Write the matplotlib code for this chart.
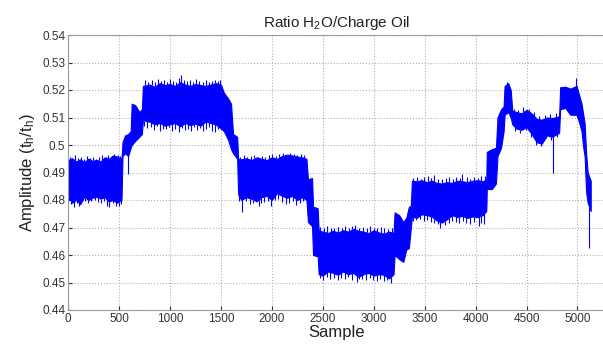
import matplotlib
matplotlib.use("Agg")
import matplotlib.pyplot as plt
import numpy as np

plt.rcParams['font.family'] = ['Liberation Sans', 'DejaVu Sans']
plt.rcParams['mathtext.default'] = 'regular'

# envelope of the signal: sample, upper edge, lower edge
sample = [0, 40, 80, 120, 160, 200, 240, 280, 320, 360, 400, 440, 480, 525,
          535, 560, 590, 615, 625, 660, 700, 725,
          735, 800, 850, 900, 950, 1000, 1050, 1100, 1150, 1200, 1250, 1300,
          1350, 1400, 1450, 1500, 1530, 1570, 1600, 1620, 1660,
          1670, 1700, 1750, 1800, 1850, 1900, 1950, 2000, 2050, 2100, 2150,
          2200, 2250, 2300, 2340, 2355, 2395, 2405, 2450,
          2460, 2500, 2550, 2600, 2650, 2700, 2750, 2800, 2850, 2900, 2950,
          3000, 3050, 3100, 3150, 3195, 3205, 3250, 3290, 3320, 3345, 3365,
          3375, 3420, 3470, 3520, 3570, 3620, 3670, 3720, 3770, 3820, 3870,
          3920, 3970, 4020, 4070, 4105, 4110, 4160, 4200, 4215, 4250, 4275,
          4285, 4320, 4345, 4360, 4400, 4450, 4500, 4550, 4600, 4650, 4700,
          4750, 4800, 4820, 4830, 4880, 4930, 4990, 5010, 5040, 5055, 5070,
          5085, 5100, 5130]
upper = [0.4945, 0.4952, 0.4940, 0.4948, 0.4938, 0.4950, 0.4942, 0.4946,
         0.4940, 0.4955, 0.4950, 0.4962, 0.4958, 0.4950,
         0.5010, 0.5035, 0.5040, 0.5050, 0.5150, 0.5145, 0.5120, 0.5130,
         0.5215, 0.5220, 0.5212, 0.5225, 0.5218, 0.5222, 0.5215, 0.5228,
         0.5220, 0.5215, 0.5222, 0.5218, 0.5215, 0.5220, 0.5225, 0.5220,
         0.5190, 0.5170, 0.5150, 0.5040, 0.5030,
         0.4950, 0.4948, 0.4952, 0.4945, 0.4955, 0.4950, 0.4945, 0.4955,
         0.4950, 0.4960, 0.4965, 0.4962, 0.4958, 0.4955, 0.4950, 0.4875,
         0.4880, 0.4776, 0.4770,
         0.4690, 0.4685, 0.4680, 0.4688, 0.4682, 0.4690, 0.4685, 0.4695,
         0.4688, 0.4685, 0.4680, 0.4690, 0.4682, 0.4678, 0.4685, 0.4680,
         0.4755, 0.4745, 0.4720, 0.4735, 0.4775, 0.4780,
         0.4870, 0.4868, 0.4872, 0.4865, 0.4870, 0.4862, 0.4860, 0.4865,
         0.4862, 0.4870, 0.4868, 0.4865, 0.4870, 0.4872, 0.4868, 0.4875,
         0.4975, 0.4985, 0.4990, 0.5100, 0.5130, 0.5140,
         0.5215, 0.5225, 0.5200, 0.5125, 0.5120, 0.5115, 0.5128, 0.5115,
         0.5095, 0.5092, 0.5100, 0.5098, 0.5102, 0.5105,
         0.5210, 0.5212, 0.5205, 0.5215, 0.5190, 0.5150, 0.5115, 0.5080,
         0.4970, 0.4900, 0.4870]
lower = [0.4815, 0.4790, 0.4800, 0.4785, 0.4812, 0.4800, 0.4808, 0.4812,
         0.4805, 0.4810, 0.4795, 0.4800, 0.4790, 0.4800,
         0.4960, 0.4970, 0.4960, 0.4990, 0.5000, 0.5015, 0.5030, 0.5040,
         0.5090, 0.5085, 0.5075, 0.5080, 0.5070, 0.5075, 0.5080, 0.5068,
         0.5080, 0.5072, 0.5078, 0.5070, 0.5085, 0.5080, 0.5075, 0.5060,
         0.5050, 0.5020, 0.4985, 0.4970, 0.4950,
         0.4820, 0.4800, 0.4810, 0.4805, 0.4795, 0.4810, 0.4815, 0.4800,
         0.4825, 0.4815, 0.4808, 0.4815, 0.4800, 0.4810, 0.4800, 0.4720,
         0.4705, 0.4600, 0.4595,
         0.4530, 0.4525, 0.4540, 0.4535, 0.4528, 0.4540, 0.4530, 0.4535,
         0.4520, 0.4530, 0.4535, 0.4525, 0.4530, 0.4528, 0.4515, 0.4530,
         0.4600, 0.4585, 0.4575, 0.4620, 0.4625, 0.4700,
         0.4740, 0.4735, 0.4748, 0.4745, 0.4740, 0.4725, 0.4718, 0.4730,
         0.4745, 0.4738, 0.4742, 0.4735, 0.4740, 0.4738, 0.4745, 0.4760,
         0.4840, 0.4840, 0.4860, 0.4960, 0.4990, 0.5050,
         0.5110, 0.5120, 0.5100, 0.5075, 0.5060, 0.5055, 0.5065, 0.5040,
         0.5010, 0.5005, 0.5035, 0.5030, 0.5040, 0.5045,
         0.5130, 0.5135, 0.5110, 0.5110, 0.5090, 0.5050, 0.4995, 0.4960,
         0.4830, 0.4790, 0.4760]

# spikes sticking out above the band
hi_x = [15, 45, 70, 95, 130, 155, 185, 215, 250, 275, 305, 335, 370, 395,
        420, 455, 490, 515,
        760, 790, 820, 850, 880, 910, 940, 970, 1000, 1030, 1060, 1090, 1110,
        1140, 1170, 1200, 1230, 1260, 1290, 1320, 1350, 1380, 1410, 1440,
        1470, 1495,
        1690, 1725, 1760, 1795, 1830, 1865, 1900, 1935, 1970, 2005, 2040,
        2075, 2110, 2145, 2180, 2215, 2250, 2285, 2315,
        2475, 2510, 2545, 2580, 2615, 2650, 2685, 2720, 2755, 2790, 2820,
        2860, 2895, 2930, 2965, 3000, 3035, 3070, 3105, 3140, 3180,
        3390, 3425, 3460, 3495, 3530, 3565, 3590, 3635, 3670, 3705, 3740,
        3775, 3810, 3845, 3870, 3915, 3950, 3985, 4020, 4055, 4090,
        4305, 4380, 4420, 4470, 4520, 4570, 4620, 4680, 4730, 4790, 4990]
hi_y = [0.4958, 0.4950, 0.4962, 0.4952, 0.4956, 0.4948, 0.4960, 0.4953,
        0.4957, 0.4950, 0.4955, 0.4962, 0.4958, 0.4965, 0.4955, 0.4968,
        0.4964, 0.4960,
        0.5235, 0.5228, 0.5238, 0.5230, 0.5240, 0.5232, 0.5236, 0.5228,
        0.5240, 0.5234, 0.5230, 0.5242, 0.5255, 0.5236, 0.5232, 0.5238,
        0.5230, 0.5240, 0.5233, 0.5228, 0.5236, 0.5230, 0.5234, 0.5238,
        0.5232, 0.5235,
        0.4958, 0.4962, 0.4955, 0.4960, 0.4963, 0.4956, 0.4960, 0.4958,
        0.4962, 0.4968, 0.4960, 0.4966, 0.4970, 0.4965, 0.4972, 0.4968,
        0.4964, 0.4968, 0.4962,
        0.4702, 0.4698, 0.4705, 0.4700, 0.4698, 0.4703, 0.4700, 0.4706,
        0.4700, 0.4705, 0.4709, 0.4700, 0.4702, 0.4698, 0.4704, 0.4700,
        0.4698, 0.4702, 0.4700, 0.4696, 0.4698,
        0.4880, 0.4885, 0.4878, 0.4882, 0.4886, 0.4880, 0.4891, 0.4878,
        0.4875, 0.4880, 0.4882, 0.4878, 0.4884, 0.4880, 0.4893, 0.4882,
        0.4878, 0.4884, 0.4880, 0.4886, 0.4888,
        0.5228, 0.5132, 0.5128, 0.5138, 0.5130, 0.5120, 0.5105, 0.5110,
        0.5112, 0.5115, 0.5242]

# spikes dropping below the band
lo_x = [10, 30, 60, 90, 110, 140, 170, 200, 230, 265, 290, 320, 350, 380,
        400, 440, 470, 500, 520, 590,
        750, 780, 815, 845, 875, 905, 935, 965, 995, 1025, 1055, 1085, 1115,
        1145, 1175, 1205, 1235, 1265, 1295, 1325, 1355, 1385, 1415, 1445,
        1475,
        1680, 1705, 1750, 1785, 1820, 1870, 1890, 1925, 1960, 1995, 2030,
        2065, 2100, 2135, 2170, 2205, 2240, 2275, 2310,
        2470, 2505, 2540, 2575, 2610, 2645, 2680, 2715, 2750, 2785, 2840,
        2855, 2890, 2925, 2960, 2995, 3030, 3065, 3100, 3135, 3170,
        3385, 3420, 3455, 3490, 3525, 3560, 3595, 3630, 3655, 3700, 3735,
        3770, 3805, 3840, 3875, 3910, 3945, 3980, 4035, 4050, 4085,
        4390, 4440, 4490, 4540, 4590, 4640, 4690, 4740, 4760, 4800, 5115]
lo_y = [0.4800, 0.4785, 0.4775, 0.4790, 0.4780, 0.4795, 0.4798, 0.4788,
        0.4795, 0.4800, 0.4792, 0.4790, 0.4795, 0.4778, 0.4775, 0.4790,
        0.4778, 0.4780, 0.4785, 0.4895,
        0.5070, 0.5062, 0.5065, 0.5055, 0.5068, 0.5050, 0.5060, 0.5058,
        0.5065, 0.5052, 0.5060, 0.5048, 0.5062, 0.5055, 0.5058, 0.5050,
        0.5064, 0.5056, 0.5062, 0.5050, 0.5060, 0.5066, 0.5052, 0.5048,
        0.5058,
        0.4795, 0.4755, 0.4795, 0.4785, 0.4790, 0.4780, 0.4788, 0.4792,
        0.4795, 0.4780, 0.4800, 0.4805, 0.4792, 0.4785, 0.4790, 0.4795,
        0.4782, 0.4788, 0.4795,
        0.4515, 0.4510, 0.4520, 0.4512, 0.4518, 0.4508, 0.4515, 0.4512,
        0.4520, 0.4510, 0.4502, 0.4512, 0.4512, 0.4508, 0.4515, 0.4510,
        0.4505, 0.4512, 0.4506, 0.4510, 0.4497,
        0.4725, 0.4728, 0.4730, 0.4722, 0.4728, 0.4720, 0.4715, 0.4712,
        0.4700, 0.4710, 0.4718, 0.4725, 0.4720, 0.4715, 0.4722, 0.4718,
        0.4712, 0.4720, 0.4705, 0.4715, 0.4712,
        0.5050, 0.5045, 0.5055, 0.5030, 0.5000, 0.4995, 0.5025, 0.5020,
        0.4897, 0.5030, 0.4625]

xticks = [0, 500, 1000, 1500, 2000, 2500, 3000, 3500, 4000, 4500, 5000]
yticks = [0.44, 0.45, 0.46, 0.47, 0.48, 0.49, 0.50, 0.51, 0.52, 0.53, 0.54]
ylabels = ['0.44', '0.45', '0.46', '0.47', '0.48', '0.49', '0.5', '0.51',
           '0.52', '0.53', '0.54']

fig = plt.figure(figsize=(6.03, 3.44), dpi=100)
ax = fig.add_axes([68 / 603, 34 / 344, 538 / 603, 275 / 344])
ax.set_axisbelow(True)

ax.fill_between(sample, lower, upper, facecolor='#0000ff', lw=0.8,
                edgecolor='#0000ff', zorder=2)
ax.vlines(hi_x, np.interp(hi_x, sample, upper), hi_y,
          color='#0000ff', lw=0.8, zorder=3)
ax.vlines(lo_x, np.interp(lo_x, sample, lower), lo_y,
          color='#0000ff', lw=0.8, zorder=3)

ax.set_xlim(0, 5280)
ax.set_ylim(0.44, 0.54)
ax.set_xticks(xticks)
ax.set_yticks(yticks)
ax.set_yticklabels(ylabels)
ax.tick_params(direction='in', labelsize=8.5, colors='#333333',
               length=3, pad=2)
ax.grid(True, color='#b0b0b0', linestyle=':', linewidth=0.8)
for sp in ax.spines.values():
    sp.set_color('#999999')

ax.set_title('Ratio H$_2$O/Charge Oil', fontsize=11, color='#222222', pad=6)
ax.set_xlabel('Sample', fontsize=12, color='#222222', labelpad=0)
ax.set_ylabel('Amplitude (t$_h$/t$_h$)', fontsize=12, color='#222222',
              labelpad=4)

fig.savefig('out.png', dpi=100)
